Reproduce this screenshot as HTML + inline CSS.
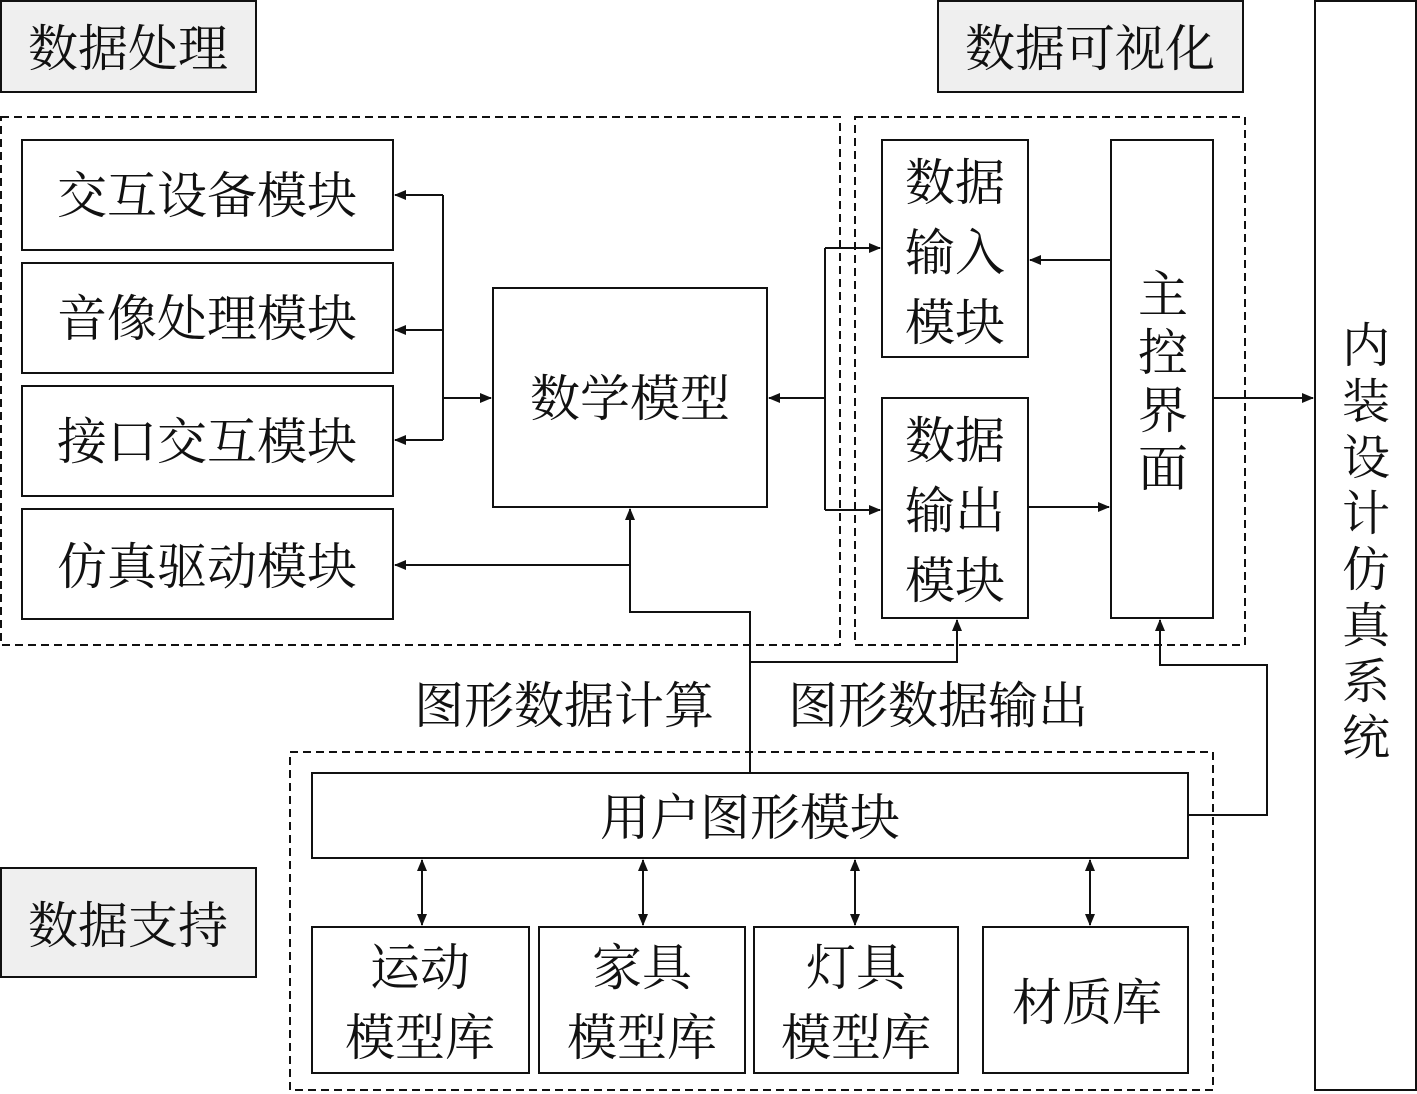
<!DOCTYPE html>
<html><head><meta charset="utf-8"><style>
html,body{margin:0;padding:0;background:#fff}
svg{display:block}
text{font-family:"Liberation Serif","Noto Serif CJK SC",serif;fill:#111}
</style></head><body>
<svg width="1417" height="1094" viewBox="0 0 1417 1094" xmlns="http://www.w3.org/2000/svg">
<defs>
<marker id="a" markerWidth="12" markerHeight="10" refX="11" refY="5" orient="auto" markerUnits="userSpaceOnUse">
<path d="M0,0 L12,5 L0,10 Z" fill="#111"/></marker>
<marker id="b" markerWidth="12" markerHeight="10" refX="1" refY="5" orient="auto" markerUnits="userSpaceOnUse">
<path d="M12,0 L0,5 L12,10 Z" fill="#111"/></marker>
</defs>
<g stroke="#111" stroke-width="2" fill="none">
<!-- gray labels -->
<rect x="1" y="1" width="255" height="91" fill="#efefef"/>
<rect x="938" y="1" width="305" height="91" fill="#efefef"/>
<rect x="1" y="868" width="255" height="109" fill="#efefef"/>
<rect x="1315" y="1" width="101" height="1089"/>
<!-- dashed regions -->
<rect x="1" y="117" width="839" height="528" stroke-dasharray="8,5"/>
<rect x="855" y="117" width="390" height="528" stroke-dasharray="8,5"/>
<rect x="290" y="752" width="923" height="338" stroke-dasharray="8,5"/>
<!-- boxes -->
<rect x="22" y="140" width="371" height="110"/>
<rect x="22" y="263" width="371" height="110"/>
<rect x="22" y="386" width="371" height="110"/>
<rect x="22" y="509" width="371" height="110"/>
<rect x="493" y="288" width="274" height="219"/>
<rect x="882" y="140" width="146" height="217"/>
<rect x="882" y="398" width="146" height="220"/>
<rect x="1111" y="140" width="102" height="478"/>
<rect x="312" y="773" width="876" height="85"/>
<rect x="312" y="927" width="217" height="146"/>
<rect x="539" y="927" width="206" height="146"/>
<rect x="754" y="927" width="204" height="146"/>
<rect x="983" y="927" width="205" height="146"/>
<!-- connectors -->
<line x1="443" y1="195" x2="443" y2="440"/>
<line x1="443" y1="195" x2="395" y2="195" marker-end="url(#a)"/>
<line x1="443" y1="330" x2="395" y2="330" marker-end="url(#a)"/>
<line x1="443" y1="440" x2="395" y2="440" marker-end="url(#a)"/>
<line x1="443" y1="398" x2="491" y2="398" marker-end="url(#a)"/>
<line x1="825" y1="398" x2="769" y2="398" marker-end="url(#a)"/>
<line x1="825" y1="248" x2="825" y2="510"/>
<line x1="825" y1="248" x2="880" y2="248" marker-end="url(#a)"/>
<line x1="825" y1="510" x2="880" y2="510" marker-end="url(#a)"/>
<line x1="1111" y1="260" x2="1030" y2="260" marker-end="url(#a)"/>
<line x1="1028" y1="507" x2="1109" y2="507" marker-end="url(#a)"/>
<line x1="1213" y1="398" x2="1313" y2="398" marker-end="url(#a)"/>
<line x1="630" y1="565" x2="395" y2="565" marker-end="url(#a)"/>
<polyline points="750,773 750,612 630,612 630,509" marker-end="url(#a)"/>
<polyline points="750,662 957,662 957,620" marker-end="url(#a)"/>
<polyline points="1188,815 1267,815 1267,665 1160,665 1160,620" marker-end="url(#a)"/>
<line x1="422" y1="860" x2="422" y2="925" marker-start="url(#b)" marker-end="url(#a)"/>
<line x1="643" y1="860" x2="643" y2="925" marker-start="url(#b)" marker-end="url(#a)"/>
<line x1="855" y1="860" x2="855" y2="925" marker-start="url(#b)" marker-end="url(#a)"/>
<line x1="1090" y1="860" x2="1090" y2="925" marker-start="url(#b)" marker-end="url(#a)"/>
</g>
<g font-size="50">
<text x="128" y="66" text-anchor="middle">数据处理</text>
<text x="1090" y="66" text-anchor="middle">数据可视化</text>
<text x="128" y="943" text-anchor="middle">数据支持</text>
</g>
<g font-size="50" text-anchor="middle">
<text x="207" y="213">交互设备模块</text>
<text x="207" y="336">音像处理模块</text>
<text x="207" y="459">接口交互模块</text>
<text x="207" y="584">仿真驱动模块</text>
<text x="630" y="416">数学模型</text>
<text x="955" y="200">数据</text>
<text x="955" y="270">输入</text>
<text x="955" y="340">模块</text>
<text x="955" y="458">数据</text>
<text x="955" y="528">输出</text>
<text x="955" y="598">模块</text>
<text x="1163" y="312">主</text>
<text x="1163" y="370">控</text>
<text x="1163" y="428">界</text>
<text x="1163" y="486">面</text>
<text x="564" y="723">图形数据计算</text>
<text x="938" y="723">图形数据输出</text>
<text x="750" y="835">用户图形模块</text>
<text x="420" y="985">运动</text>
<text x="420" y="1055">模型库</text>
<text x="642" y="985">家具</text>
<text x="642" y="1055">模型库</text>
<text x="856" y="985">灯具</text>
<text x="856" y="1055">模型库</text>
<text x="1087" y="1020">材质库</text>
</g>
<g font-size="48" text-anchor="middle">
<text x="1366" y="362">内</text>
<text x="1366" y="418">装</text>
<text x="1366" y="474">设</text>
<text x="1366" y="530">计</text>
<text x="1366" y="586">仿</text>
<text x="1366" y="642">真</text>
<text x="1366" y="698">系</text>
<text x="1366" y="754">统</text>
</g>
</svg>
</body></html>
